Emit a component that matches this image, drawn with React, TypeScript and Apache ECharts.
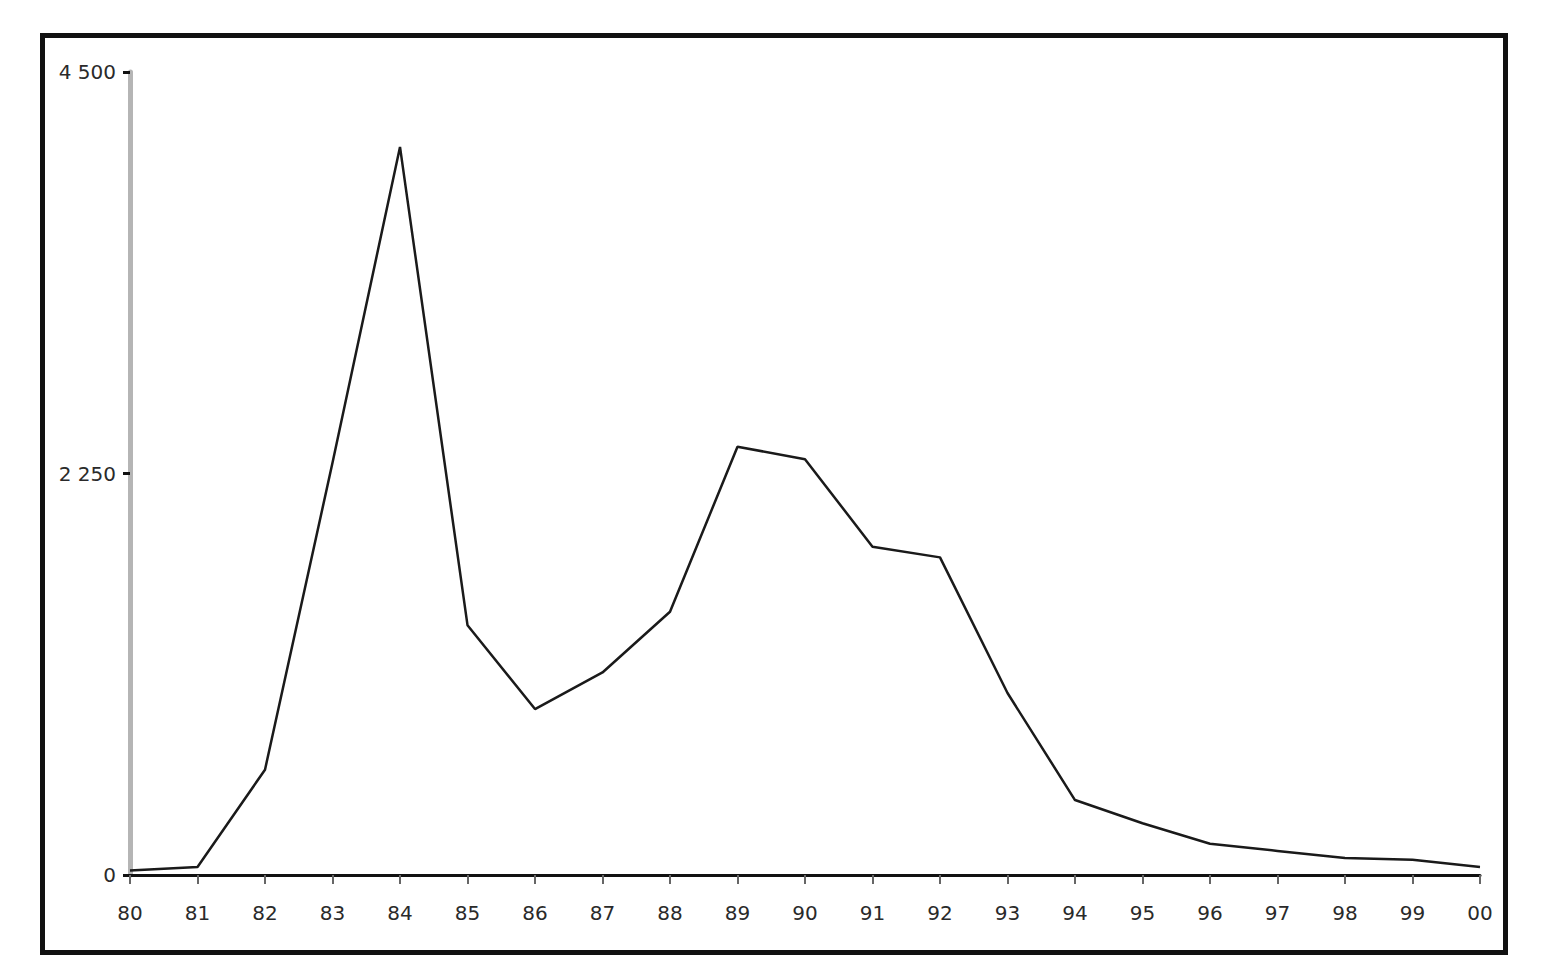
import React, { useEffect, useRef } from "react";
import * as echarts from "echarts";

const years = ["80", "81", "82", "83", "84", "85", "86", "87", "88", "89", "90", "91", "92", "93", "94", "95", "96", "97", "98", "99", "00"];
const values = [25, 45, 590, 2310, 4080, 1400, 930, 1135, 1475, 2400, 2330, 1840, 1780, 1020, 420, 290, 175, 135, 95, 85, 45];
const yMin = 0;
const yMax = 4500;
const yStep = 2250;

function fmt(v: number): string {
  const s = String(Math.round(v));
  return s.replace(/\B(?=(\d{3})+(?!\d))/g, " ");
}

export default function App() {
  const ref = useRef<HTMLDivElement>(null);
  useEffect(() => {
    if (!ref.current) return;
    const chart = echarts.init(ref.current, undefined, { renderer: "svg" });
    chart.setOption({
      animation: false,
      backgroundColor: "#ffffff",
      graphic: [
        {
          type: "rect",
          shape: { x: 42.5, y: 35.5, width: 1463, height: 917 },
          style: { fill: "none", stroke: "#111111", lineWidth: 5 },
          z: 10,
        },
      ],
      grid: { left: 130, right: 66, top: 72, bottom: 105, containLabel: false },
      xAxis: {
        type: "category",
        data: years,
        boundaryGap: false,
        axisLine: { show: true, lineStyle: { color: "#111111", width: 3 } },
        axisTick: { show: true, length: 9, alignWithLabel: true, lineStyle: { color: "#666666", width: 2 } },
        axisLabel: {
          color: "#2a2a2a",
          fontFamily: "DejaVu Sans",
          fontSize: 20,
          margin: 28,
        },
        splitLine: { show: false },
        z: 5,
      },
      yAxis: {
        type: "value",
        min: yMin,
        max: yMax,
        interval: yStep,
        axisLine: { show: true, lineStyle: { color: "#b5b5b5", width: 5 } },
        axisTick: { show: true, length: 7, lineStyle: { color: "#111111", width: 3 } },
        axisLabel: {
          color: "#2a2a2a",
          fontFamily: "DejaVu Sans",
          fontSize: 20,
          margin: 14,
          formatter: (v: number) => fmt(v),
        },
        splitLine: { show: false },
      },
      series: [
        {
          type: "line",
          data: values,
          showSymbol: false,
          symbol: "none",
          lineStyle: { color: "#1a1a1a", width: 2.5 },
          z: 3,
        },
      ],
    });
    return () => chart.dispose();
  }, []);
  return (
    <div
      ref={ref}
      style={{ position: "fixed", left: 0, top: 0, width: 1546, height: 980 }}
    />
  );
}
